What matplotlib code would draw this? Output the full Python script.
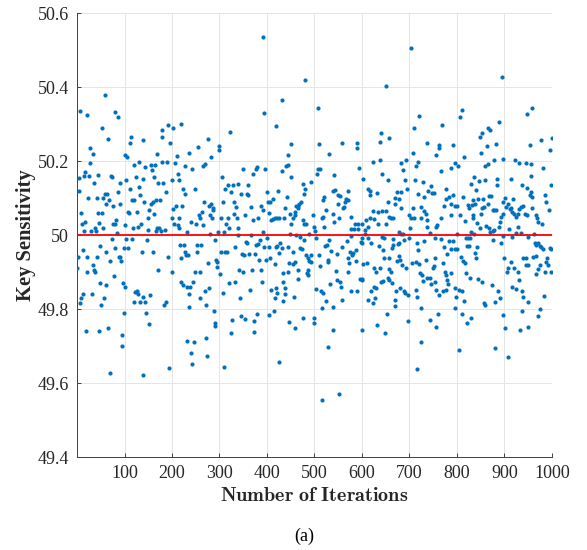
import matplotlib
matplotlib.use('Agg')
import matplotlib.pyplot as plt
import numpy as np

# (iteration, key sensitivity), grouped by iteration range
pts_0_200 = [
    (3, 49.94), (1, 49.91), (4, 50.155), (4, 50.12), (6, 50.335), (7, 49.816), (8, 49.83), (9, 50.06),
    (10, 50.03), (12, 49.84), (12, 49.96), (14, 50.01), (15, 50.16), (17, 50.17), (17, 50.036), (19, 49.74),
    (20, 49.90), (21, 50.326), (23, 50.10), (22, 49.94), (25, 50.16), (27, 50.236), (28, 50.195), (29, 50.01),
    (31, 49.84), (33, 50.218), (33, 49.92), (35, 49.905), (36, 50.14), (37, 50.02), (38, 49.90), (40, 50.01),
    (42, 50.10), (42, 49.94), (44, 50.06), (45, 50.163), (46, 49.74), (46, 50.033), (48, 49.97), (49, 49.87),
    (51, 49.81), (52, 50.06), (53, 50.29), (54, 50.10), (55, 50.02), (56, 49.83), (58, 50.11), (59, 50.38),
    (60, 50.085), (61, 49.865), (62, 49.955), (63, 50.11), (65, 49.75), (66, 50.26), (67, 50.095), (69, 49.627),
    (69, 49.93), (72, 50.16), (73, 49.99), (74, 50.157), (75, 50.03), (76, 50.08), (77, 49.89), (79, 49.964),
    (80, 50.333), (81, 50.03), (83, 50.04), (84, 50.005), (86, 50.117), (87, 50.32), (88, 49.94), (90, 50.085),
    (90, 50.14), (91, 49.94), (93, 49.93), (95, 49.73), (95, 49.70), (97, 49.87), (98, 49.79), (98, 49.964),
    (100, 49.86), (101, 50.027), (102, 50.216), (103, 50.15), (104, 49.99), (105, 50.21), (107, 49.964),
    (108, 50.063), (109, 50.06), (111, 50.25), (112, 50.126), (114, 50.265), (115, 49.99), (116, 50.095),
    (117, 50.02), (119, 49.82), (119, 50.095), (121, 50.19), (123, 49.847), (124, 50.157), (126, 49.85),
    (126, 50.063), (128, 49.84), (129, 50.022), (130, 50.198), (131, 50.13), (133, 49.82), (133, 50.108),
    (135, 50.03), (136, 49.955), (138, 50.256), (139, 49.834), (140, 49.622), (140, 50.153), (142, 50.09),
    (143, 49.82), (144, 50.184), (146, 49.79), (147, 49.987), (149, 50.045), (150, 50.013), (152, 49.76),
    (152, 50.067), (154, 49.838), (155, 50.085), (156, 50.19), (157, 50.175), (159, 49.955), (160, 50.09),
    (162, 50.157), (163, 50.058), (164, 50.19), (166, 50.095), (166, 50.01), (168, 50.22), (169, 50.018),
    (170, 50.14), (171, 49.905), (173, 50.018), (175, 50.095), (177, 50.01), (178, 50.283), (180, 50.198),
    (180, 50.265), (182, 50.14), (184, 49.81), (185, 50.013), (187, 49.82), (187, 50.117), (189, 50.198),
    (191, 50.297), (192, 49.94), (194, 49.64), (196, 50.25),
]

pts_200_400 = [
    (391, 50.535), (394, 50.33), (203, 50.29), (220, 50.30), (201, 49.90), (199, 50.045), (203, 50.07),
    (205, 50.03), (201, 50.148), (208, 50.08), (206, 50.195), (210, 50.213), (212, 50.166), (214, 50.148),
    (212, 50.027), (214, 50.02), (215, 50.045), (217, 49.973), (218, 49.937), (219, 49.874), (221, 50.08),
    (224, 50.126), (224, 49.865), (225, 49.973), (227, 49.955), (228, 50.188), (228, 50.112), (230, 49.946),
    (231, 49.86), (232, 50.009), (234, 49.946), (231, 49.713), (235, 50.222), (236, 49.84), (236, 49.807),
    (238, 49.86), (240, 50.036), (241, 49.68), (242, 49.652), (243, 50.178), (246, 49.71), (245, 49.874),
    (248, 49.90), (249, 50.126), (251, 50.03), (252, 49.973), (253, 49.955), (255, 50.238), (256, 50.054),
    (258, 50.045), (259, 49.90), (260, 49.83), (261, 49.973), (263, 50.063), (265, 50.027), (266, 50.188),
    (268, 50.09), (269, 50.193), (270, 49.848), (272, 49.81), (272, 49.722), (273, 49.673), (275, 49.924),
    (276, 50.26), (277, 50.08), (277, 49.856), (279, 50.004), (280, 50.054), (282, 50.085), (283, 50.21),
    (284, 50.045), (286, 50.072), (287, 50.067), (289, 49.794), (290, 49.762), (291, 49.753), (291, 49.987),
    (293, 49.933), (294, 49.928), (295, 49.915), (297, 50.009), (298, 50.229), (300, 50.24), (301, 49.894),
    (303, 50.045), (304, 49.955), (305, 50.157), (307, 50.09), (308, 49.843), (310, 50.009), (310, 49.643),
    (312, 49.955), (312, 50.126), (314, 50.03), (315, 49.955), (317, 50.135), (318, 50.045), (319, 49.87),
    (321, 50.018), (322, 50.28), (324, 50.117), (325, 49.735), (326, 49.771), (328, 50.135), (330, 50.09),
    (331, 50.058), (333, 49.874), (333, 49.969), (335, 50.076), (336, 50.045), (338, 50.018), (339, 50.139),
    (340, 50.0), (342, 49.906), (343, 49.83), (345, 49.78), (346, 50.112), (347, 49.95), (349, 50.18),
    (350, 49.90), (352, 49.946), (353, 50.054), (354, 49.774), (356, 49.982), (357, 49.978), (359, 50.112),
    (360, 50.135), (361, 50.108), (363, 49.95), (364, 49.852), (366, 50.0), (367, 50.076), (368, 49.906),
    (370, 50.166), (371, 50.04), (373, 49.769), (373, 49.737), (374, 49.95), (376, 49.973), (377, 50.18),
    (378, 49.788), (380, 50.184), (381, 49.975), (382, 50.045), (384, 49.933), (385, 49.987), (387, 49.906),
    (388, 50.08), (390, 49.874), (391, 50.009), (392, 50.067), (394, 49.969), (395, 50.178), (397, 49.933),
]

pts_400_600 = [
    (480, 50.42), (431, 50.366), (419, 50.294), (507, 50.344), (451, 50.247), (445, 50.217), (510, 50.246),
    (531, 50.22), (559, 50.25), (590, 50.25), (590, 50.235), (431, 50.173), (440, 50.188), (444, 50.19),
    (451, 50.156), (401, 50.117), (403, 50.09), (407, 50.09), (412, 50.097), (424, 50.12), (442, 50.104),
    (438, 50.072), (408, 50.04), (412, 50.043), (417, 50.047), (422, 50.045), (426, 50.045), (435, 50.047),
    (405, 50.061), (405, 49.969), (401, 49.991), (407, 49.937), (416, 49.921), (419, 49.969), (422, 49.971),
    (426, 49.951), (428, 49.978), (431, 49.966), (433, 49.897), (434, 49.874), (437, 49.858), (438, 49.84),
    (433, 49.822), (419, 49.856), (416, 49.83), (421, 49.843), (408, 49.852), (414, 49.795), (404, 49.783),
    (425, 49.657), (447, 49.764), (458, 49.749), (456, 49.834), (445, 49.9), (447, 49.924), (454, 49.921),
    (458, 49.926), (465, 49.906), (465, 49.882), (455, 49.955), (444, 49.969), (449, 50.004), (451, 50.031),
    (449, 50.058), (455, 50.047), (458, 50.054), (459, 50.063), (461, 50.08), (465, 50.074), (466, 50.08),
    (468, 50.085), (472, 50.09), (461, 50.0), (470, 49.996), (470, 49.966), (473, 49.962), (476, 50.139),
    (479, 50.112), (480, 50.126), (475, 50.04), (477, 50.031), (482, 50.029), (479, 49.987), (482, 49.946),
    (486, 49.937), (489, 49.93), (493, 49.946), (493, 49.928), (486, 49.906), (484, 49.897), (487, 49.892),
    (476, 49.776), (489, 50.004), (496, 50.054), (493, 50.143), (500, 50.022), (501, 50.011), (503, 49.993),
    (503, 49.854), (500, 49.776), (500, 49.762), (505, 50.166), (507, 50.179), (512, 50.179), (510, 49.946),
    (512, 49.917), (514, 49.849), (517, 49.843), (515, 49.804), (517, 50.094), (521, 50.103), (524, 50.067),
    (519, 50.049), (515, 50.045), (521, 50.022), (522, 49.971), (526, 49.973), (528, 49.926), (529, 49.933),
    (524, 49.821), (528, 49.697), (531, 49.987), (535, 49.957), (533, 49.867), (538, 50.118), (543, 50.121),
    (542, 50.163), (540, 50.058), (542, 50.036), (540, 49.807), (538, 49.744), (545, 49.903), (547, 49.948),
    (550, 50.085), (550, 50.109), (554, 50.106), (552, 50.045), (552, 49.571), (547, 49.879), (554, 49.874),
    (556, 49.861), (557, 49.825), (559, 49.969), (561, 50.074), (563, 50.076), (564, 50.09), (566, 50.099),
    (570, 50.118), (571, 50.094), (568, 49.984), (570, 49.939), (571, 49.901), (573, 49.924), (574, 49.955),
    (576, 49.848), (577, 50.049), (577, 49.998), (578, 50.016), (580, 49.946), (582, 49.951), (584, 50.016),
    (585, 50.031), (587, 49.96), (588, 49.93), (590, 49.849), (591, 50.029), (592, 50.016), (594, 50.181),
    (595, 49.882), (597, 49.982), (516, 49.553),
]

pts_600_800 = [
    (703, 50.505), (650, 50.404), (721, 50.323), (710, 50.29), (768, 50.297), (640, 50.277), (658, 50.262),
    (637, 50.251), (738, 50.248), (763, 50.245), (763, 50.236), (792, 50.244), (707, 50.223), (756, 50.217),
    (624, 50.199), (638, 50.202), (693, 50.204), (683, 50.195), (718, 50.199), (714, 50.186), (795, 50.196),
    (788, 50.181), (642, 50.165), (687, 50.176), (767, 50.173), (603, 50.151), (655, 50.148), (691, 50.148),
    (712, 50.148), (728, 50.143), (745, 50.133), (612, 50.126), (616, 50.118), (618, 50.109), (632, 50.115),
    (674, 50.117), (683, 50.117), (694, 50.126), (718, 50.112), (740, 50.118), (747, 50.115), (752, 50.115),
    (776, 50.124), (669, 50.1), (677, 50.099), (654, 50.09), (670, 50.083), (682, 50.074), (731, 50.103),
    (778, 50.097), (783, 50.103), (792, 50.108), (795, 50.08), (787, 50.083), (773, 50.079), (725, 50.076),
    (731, 50.065), (735, 50.056), (736, 50.04), (725, 50.045), (707, 50.072), (700, 50.054), (703, 50.047),
    (710, 50.047), (623, 50.066), (633, 50.063), (643, 50.065), (651, 50.065), (658, 50.049), (661, 50.045),
    (665, 50.047), (651, 50.03), (626, 50.043), (617, 50.047), (608, 50.04), (600, 50.029), (612, 50.022),
    (607, 50.013), (633, 50.031), (767, 50.047), (756, 50.022), (759, 50.027), (787, 50.054), (738, 50.022),
    (743, 50.007), (677, 50.009), (682, 50.004), (686, 50.002), (701, 50.018), (642, 49.994), (647, 49.993),
    (666, 49.989), (606, 50.002), (601, 49.991), (601, 49.978), (619, 49.98), (612, 49.991), (665, 49.973),
    (675, 49.975), (679, 49.978), (689, 49.987), (700, 49.991), (731, 49.984), (754, 49.991), (766, 49.989),
    (783, 49.984), (792, 49.984), (715, 49.978), (717, 49.96), (635, 49.971), (645, 49.96), (663, 49.966),
    (773, 49.969), (780, 49.948), (787, 49.962), (797, 49.962), (754, 49.939), (735, 49.933), (721, 49.922),
    (714, 49.926), (705, 49.924), (693, 49.91), (684, 49.919), (677, 49.944), (673, 49.93), (680, 49.933),
    (656, 49.939), (647, 49.937), (638, 49.912), (626, 49.91), (630, 49.901), (611, 49.924), (603, 49.921),
    (601, 49.879), (600, 49.882), (658, 49.908), (661, 49.901), (654, 49.883), (658, 49.879), (663, 49.87),
    (641, 49.874), (645, 49.876), (626, 49.859), (630, 49.858), (619, 49.85), (612, 49.825), (623, 49.816),
    (628, 49.83), (672, 49.848), (680, 49.856), (689, 49.848), (691, 49.843), (698, 49.837), (670, 49.824),
    (670, 49.809), (714, 49.852), (715, 49.834), (722, 49.897), (726, 49.892), (729, 49.876), (738, 49.883),
    (743, 49.883), (750, 49.91), (752, 49.917), (753, 49.873), (745, 49.867), (756, 49.852), (762, 49.837),
    (771, 49.924), (774, 49.9), (777, 49.892), (780, 49.879), (781, 49.867), (771, 49.85), (777, 49.852),
    (788, 49.897), (795, 49.857), (795, 49.804), (724, 49.803), (743, 49.771), (760, 49.787), (756, 49.752),
    (696, 49.769), (652, 49.787), (631, 49.756), (649, 49.735), (601, 49.743), (725, 49.712), (715, 49.639),
]

pts_800_1000 = [
    (894, 50.428), (811, 50.338), (806, 50.32), (959, 50.343), (947, 50.327), (888, 50.307), (865, 50.289),
    (870, 50.285), (853, 50.276), (848, 50.265), (1000, 50.262), (977, 50.256), (953, 50.244), (883, 50.247),
    (863, 50.24), (996, 50.23), (851, 50.223), (815, 50.21), (879, 50.204), (898, 50.206), (923, 50.204),
    (930, 50.196), (945, 50.194), (956, 50.191), (803, 50.188), (859, 50.186), (865, 50.192), (982, 50.182),
    (957, 50.16), (835, 50.158), (847, 50.146), (860, 50.15), (884, 50.136), (884, 50.152), (914, 50.151),
    (937, 50.135), (947, 50.128), (829, 50.138), (841, 50.121), (999, 50.135), (956, 50.117), (953, 50.109),
    (959, 50.103), (986, 50.109), (813, 50.103), (834, 50.094), (844, 50.099), (854, 50.097), (867, 50.105),
    (872, 50.105), (901, 50.101), (919, 50.098), (988, 50.09), (800, 50.079), (823, 50.081), (826, 50.074),
    (831, 50.081), (838, 50.085), (852, 50.074), (856, 50.077), (865, 50.083), (875, 50.068), (879, 50.067),
    (882, 50.069), (896, 50.09), (903, 50.075), (908, 50.084), (911, 50.07), (914, 50.074), (931, 50.07),
    (935, 50.077), (940, 50.078), (959, 50.074), (994, 50.069), (807, 50.054), (818, 50.038), (833, 50.054),
    (833, 50.045), (842, 50.032), (851, 50.058), (849, 50.02), (862, 50.024), (868, 50.02), (870, 50.009),
    (875, 50.012), (879, 50.015), (889, 50.022), (891, 50.036), (893, 50.049), (896, 50.056), (898, 49.997),
    (910, 50.016), (917, 50.063), (921, 50.058), (925, 50.049), (928, 50.056), (929, 50.021), (935, 50.006),
    (943, 50.057), (947, 50.054), (967, 50.054), (969, 50.045), (971, 50.036), (980, 50.029), (963, 50.003),
    (949, 49.996), (917, 49.996), (924, 50.007), (837, 50.002), (830, 50.009), (819, 49.991), (824, 49.991),
    (828, 49.993), (801, 50.002), (801, 49.962), (822, 49.971), (826, 49.971), (842, 49.969), (838, 49.953),
    (841, 49.937), (876, 49.987), (893, 49.98), (900, 49.937), (905, 49.901), (908, 49.91), (914, 49.928),
    (921, 49.91), (928, 49.901), (931, 49.879), (940, 49.939), (945, 49.939), (945, 49.919), (949, 49.919),
    (961, 49.942), (966, 49.943), (964, 49.98), (967, 49.973), (971, 49.978), (975, 49.971), (978, 49.969),
    (982, 49.962), (995, 49.966), (999, 49.962), (990, 49.937), (988, 49.926), (992, 49.919), (998, 49.901),
    (971, 49.908), (967, 49.894), (985, 49.901), (974, 49.919), (808, 49.942), (813, 49.93), (817, 49.924),
    (820, 49.897), (827, 49.885), (844, 49.882), (853, 49.872), (874, 49.865), (887, 49.849), (891, 49.831),
    (881, 49.818), (858, 49.816), (859, 49.812), (814, 49.821), (811, 49.85), (804, 49.852), (799, 49.834),
    (917, 49.861), (924, 49.855), (937, 49.848), (939, 49.834), (950, 49.818), (983, 49.836), (975, 49.801),
    (970, 49.782), (936, 49.794), (896, 49.785), (902, 49.749), (933, 49.743), (950, 49.751), (810, 49.788),
    (821, 49.762), (830, 49.777), (804, 49.689), (880, 49.695), (907, 49.67),
]

ideal_value = 50
x_ticks = [100, 200, 300, 400, 500, 600, 700, 800, 900, 1000]
y_ticks = [49.4, 49.6, 49.8, 50, 50.2, 50.4, 50.6]
y_tick_labels = ['49.4', '49.6', '49.8', '50', '50.2', '50.4', '50.6']

pts = np.array(pts_0_200 + pts_200_400 + pts_400_600 + pts_600_800 + pts_800_1000)

plt.rcParams['font.family'] = ['Liberation Serif', 'DejaVu Serif']
plt.rcParams['mathtext.fontset'] = 'cm'

fig = plt.figure(figsize=(5.87, 5.5), dpi=100)
ax = fig.add_axes([0.1312, 0.169, 0.809, 0.807])

ax.scatter(pts[:, 0], pts[:, 1], s=9, color='#0072BD', linewidths=0, zorder=3)
ax.axhline(ideal_value, color='#FF0000', linewidth=1.3, zorder=4)

ax.set_xlim(0, 1000)
ax.set_ylim(49.4, 50.6)
ax.set_xticks(x_ticks)
ax.set_yticks(y_ticks)
ax.set_yticklabels(y_tick_labels)
ax.tick_params(direction='in', length=3, width=0.6, colors='#262626', labelsize=13, pad=6)

ax.grid(True, color='#E5E5E5', linewidth=0.7)
ax.set_axisbelow(True)
for side in ['top', 'right']:
    ax.spines[side].set_visible(False)
for side in ['left', 'bottom']:
    ax.spines[side].set_color('#404040')
    ax.spines[side].set_linewidth(0.7)

# x label is LaTeX bold (Computer Modern) in the original
ax.set_xlabel(r'$\mathbf{Number\ of\ Iterations}$', fontsize=14.5, color='#262626', labelpad=3)
ax.set_ylabel('Key Sensitivity', fontsize=14.8, fontweight='bold', color='#262626', labelpad=1)

fig.text(0.518, 0.025, '(a)', ha='center', va='center', fontsize=13)

plt.savefig('out.png', dpi=100)
